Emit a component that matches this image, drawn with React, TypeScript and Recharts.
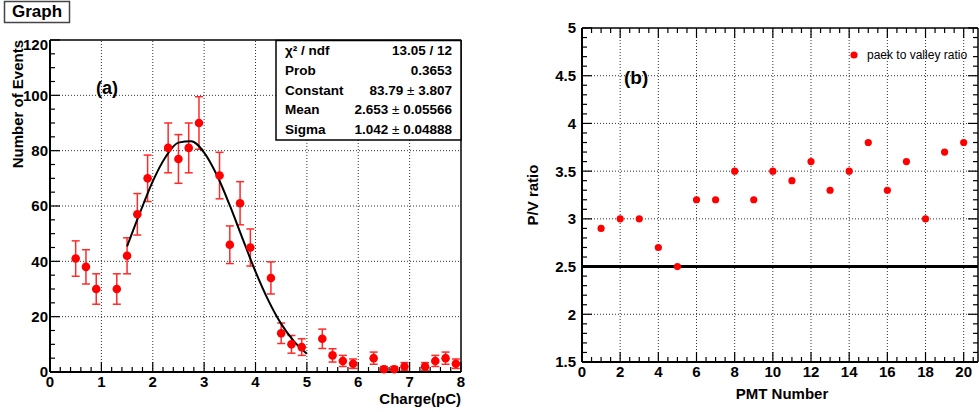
import React from "react";
import {
  ComposedChart,
  Scatter,
  Line,
  XAxis,
  YAxis,
  ErrorBar,
  ReferenceLine,
} from "recharts";

// (a) charge spectrum
const chargeBins = [0.5, 0.7, 0.9, 1.3, 1.5, 1.7, 1.9, 2.3, 2.5, 2.7, 2.9, 3.3, 3.5, 3.7, 3.9, 4.3, 4.5, 4.7, 4.9, 5.3, 5.5, 5.7, 5.9, 6.3, 6.5, 6.7, 6.9, 7.3, 7.5, 7.7, 7.9];
const eventCounts = [41, 38, 30, 30, 42, 57, 70, 81, 77, 81, 90, 71, 46, 61, 45, 34, 14, 10, 9, 12, 6, 4, 3, 5, 1, 1, 2, 2, 4, 5, 3];
const countErrors = [6.4, 6.2, 5.5, 5.5, 6.5, 7.5, 8.4, 9, 8.8, 9, 9.5, 8.4, 6.8, 7.8, 6.7, 5.8, 3.7, 3.2, 3, 3.5, 2.4, 2, 1.7, 2.2, 1, 1, 1.4, 1.4, 2, 2.2, 1.7];

// gaus fit
const fitX = [1.5, 1.75, 2.0, 2.25, 2.5, 2.75, 3.0, 3.25, 3.5, 3.75, 4.0, 4.25, 4.5, 4.75, 5.0];
const fitY = [45.4, 57.5, 68.9, 77.7, 82.9, 83.4, 79.3, 71.1, 60.2, 48.1, 36.3, 25.9, 17.4, 11.1, 6.6];

const statRows = [
  ["χ² / ndf", "13.05 / 12", ""],
  ["Prob", "0.3653", ""],
  ["Constant", "83.79", "3.807"],
  ["Mean", "2.653", "0.05566"],
  ["Sigma", "1.042", "0.04888"],
];

// (b) P/V ratio per PMT
const pmtNumbers = [1, 2, 3, 4, 5, 6, 7, 8, 9, 10, 11, 12, 13, 14, 15, 16, 17, 18, 19, 20];
const pvRatio = [2.9, 3.0, 3.0, 2.7, 2.5, 3.2, 3.2, 3.5, 3.2, 3.5, 3.4, 3.6, 3.3, 3.5, 3.8, 3.3, 3.6, 3.0, 3.7, 3.8];
const pvThreshold = 2.5;

const leftXMajor = [0, 1, 2, 3, 4, 5, 6, 7, 8];
const leftYMajor = [0, 20, 40, 60, 80, 100, 120];
const rightXMajor = [0, 2, 4, 6, 8, 10, 12, 14, 16, 18, 20];
const rightYMajor = [1.5, 2, 2.5, 3, 3.5, 4, 4.5, 5];

const steps = (from: number, to: number, step: number) => {
  const out: number[] = [];
  for (let v = from; v <= to + 1e-9; v += step) out.push(Math.round(v * 100) / 100);
  return out;
};

const spectrum = chargeBins.map((x, i) => ({ x, y: eventCounts[i], err: countErrors[i] }));
const fitLine = fitX.map((x, i) => ({ x, y: fitY[i] }));
const pvData = pmtNumbers.map((x, i) => ({ x, y: pvRatio[i] }));

const FONT = "'Liberation Sans', Arial, Helvetica, sans-serif";
const isMajor = (list: number[], v: number) => list.some((m) => Math.abs(m - v) < 1e-6);

const xTick = (majors: number[], topY?: number) => (props: any) => {
  const { x, y, payload } = props;
  const major = isMajor(majors, payload.value);
  const len = major ? 10 : 5;
  return (
    <g>
      <line x1={x} y1={y} x2={x} y2={y - len} stroke="#000" strokeWidth={1.2} />
      {topY !== undefined && <line x1={x} y1={topY} x2={x} y2={topY + len} stroke="#000" strokeWidth={1.2} />}
      {major && (
        <text x={x} y={y + 15} textAnchor="middle" fontFamily={FONT} fontWeight="bold" fontSize={15} fill="#000">
          {payload.value}
        </text>
      )}
    </g>
  );
};

const yTick = (majors: number[], gap: number, rightX?: number, topVal?: number) => (props: any) => {
  const { x, y, payload } = props;
  const major = isMajor(majors, payload.value);
  const len = major ? 10 : 5;
  const shift = topVal !== undefined && payload.value === topVal ? 5 : 0;
  return (
    <g>
      <line x1={x} y1={y} x2={x + len} y2={y} stroke="#000" strokeWidth={1.2} />
      {rightX !== undefined && <line x1={rightX} y1={y} x2={rightX - len} y2={y} stroke="#000" strokeWidth={1.2} />}
      {major && (
        <text x={x - gap} y={y + shift} dy="0.36em" textAnchor="end" fontFamily={FONT} fontWeight="bold" fontSize={15} fill="#000">
          {payload.value}
        </text>
      )}
    </g>
  );
};

const grid = { stroke: "#333", strokeDasharray: "1 2", strokeWidth: 1 };

function SpectrumPanel() {
  return (
    <ComposedChart width={480} height={412} margin={{ top: 40, right: 19, bottom: 0, left: 0 }}>
      <XAxis
        type="number"
        dataKey="x"
        domain={[0, 8]}
        ticks={steps(0, 8, 0.2)}
        interval={0}
        height={40}
        tickSize={0}
        tickMargin={0}
        tickLine={false}
        axisLine={{ stroke: "#000", strokeWidth: 2 }}
        tick={xTick(leftXMajor)}
      />
      <YAxis
        type="number"
        domain={[0, 120]}
        ticks={steps(0, 120, 5)}
        interval={0}
        width={50}
        tickSize={0}
        tickMargin={0}
        tickLine={false}
        axisLine={{ stroke: "#000", strokeWidth: 2 }}
        tick={yTick(leftYMajor, 2, undefined, 120)}
      />
      {[1, 2, 3, 4, 5, 6, 7].map((v) => (
        <ReferenceLine key={"gx" + v} x={v} {...grid} />
      ))}
      {[20, 40, 60, 80, 100].map((v) => (
        <ReferenceLine key={"gy" + v} y={v} {...grid} />
      ))}
      <ReferenceLine y={120} stroke="#000" strokeWidth={1.5} />
      <ReferenceLine x={8} stroke="#000" strokeWidth={1.5} />
      <Scatter
        data={spectrum}
        dataKey="y"
        isAnimationActive={false}
        shape={(p: any) => <circle cx={p.cx} cy={p.cy} r={4.3} fill="#ff0000" />}
      >
        <ErrorBar dataKey="err" direction="y" width={4} stroke="#ff2a2a" strokeWidth={1.5} />
      </Scatter>
      <Line
        data={fitLine}
        dataKey="y"
        type="monotone"
        stroke="#000"
        strokeWidth={2}
        dot={false}
        isAnimationActive={false}
      />
    </ComposedChart>
  );
}

function RatioPanel() {
  return (
    <ComposedChart width={479} height={412} margin={{ top: 28, right: 1, bottom: 0, left: 0 }}>
      <XAxis
        type="number"
        dataKey="x"
        domain={[0, 20.75]}
        ticks={steps(0, 20.5, 0.5)}
        interval={0}
        height={50}
        tickSize={0}
        tickMargin={0}
        tickLine={false}
        axisLine={{ stroke: "#000", strokeWidth: 2 }}
        tick={xTick(rightXMajor, 28)}
      />
      <YAxis
        type="number"
        domain={[1.5, 5]}
        ticks={steps(1.5, 5, 0.1)}
        interval={0}
        width={82}
        tickSize={0}
        tickMargin={0}
        tickLine={false}
        axisLine={{ stroke: "#000", strokeWidth: 2 }}
        tick={yTick(rightYMajor, 6, 478)}
      />
      {[2, 4, 6, 8, 10, 12, 14, 16, 18, 20].map((v) => (
        <ReferenceLine key={"gx" + v} x={v} {...grid} />
      ))}
      {[2, 3, 3.5, 4, 4.5].map((v) => (
        <ReferenceLine key={"gy" + v} y={v} {...grid} />
      ))}
      <ReferenceLine y={5} stroke="#000" strokeWidth={1.5} />
      <ReferenceLine x={20.75} stroke="#000" strokeWidth={1.5} />
      <Scatter
        data={pvData}
        dataKey="y"
        isAnimationActive={false}
        shape={(p: any) => <circle cx={p.cx} cy={p.cy} r={3.6} fill="#ff0000" />}
      />
      <ReferenceLine y={pvThreshold} stroke="#000" strokeWidth={3} />
    </ComposedChart>
  );
}

function Overlay() {
  const bold = { fontFamily: FONT, fontWeight: "bold" as const, fill: "#000" };
  return (
    <svg width={979} height={412} style={{ position: "absolute", left: 0, top: 0, pointerEvents: "none" }}>
      <rect x={4.5} y={1.5} width={65} height={21} fill="#fff" stroke="#444" strokeWidth={1.5} />
      <text x={37} y={16.5} textAnchor="middle" fontSize={17} {...bold}>Graph</text>

      <text x={96} y={94} fontSize={18} {...bold}>(a)</text>
      <text x={461} y={404} textAnchor="end" fontSize={15} {...bold}>Charge(pC)</text>
      <text x={23} y={40} textAnchor="end" fontSize={15} transform="rotate(-90 23 40)" {...bold}>
        Number of Events
      </text>

      <rect x={276} y={40.5} width={185} height={99.5} fill="#fff" stroke="#000" strokeWidth={1.5} />
      {statRows.map((r, i) => (
        <g key={r[0]}>
          <text x={285} y={55 + i * 19.8} fontSize={13.5} {...bold}>{r[0]}</text>
          {r[2] === "" ? (
            <text x={452} y={55 + i * 19.8} textAnchor="end" fontSize={13.5} {...bold}>{r[1]}</text>
          ) : (
            <text x={452} y={55 + i * 19.8} textAnchor="end" fontSize={13.5} {...bold}>
              {r[1]}
              <tspan fontWeight="normal"> ± </tspan>
              {r[2]}
            </text>
          )}
        </g>
      ))}

      <text x={624} y={84} fontSize={19} {...bold}>(b)</text>
      <text x={782} y={399} textAnchor="middle" fontSize={15} {...bold}>PMT Number</text>
      <text x={538} y={195} textAnchor="middle" fontSize={15} transform="rotate(-90 538 195)" {...bold}>
        P/V ratio
      </text>
      <circle cx={854} cy={55} r={3.6} fill="#ff0000" />
      <text x={867} y={59} fontSize={12} fontFamily={FONT} fill="#000">paek to valley ratio</text>
    </svg>
  );
}

export default function App() {
  return (
    <div style={{ position: "absolute", left: 0, top: 0, width: 979, height: 412, background: "#fff" }}>
      <div style={{ position: "absolute", left: 0, top: 0 }}>
        <SpectrumPanel />
      </div>
      <div style={{ position: "absolute", left: 500, top: 0 }}>
        <RatioPanel />
      </div>
      <Overlay />
    </div>
  );
}
